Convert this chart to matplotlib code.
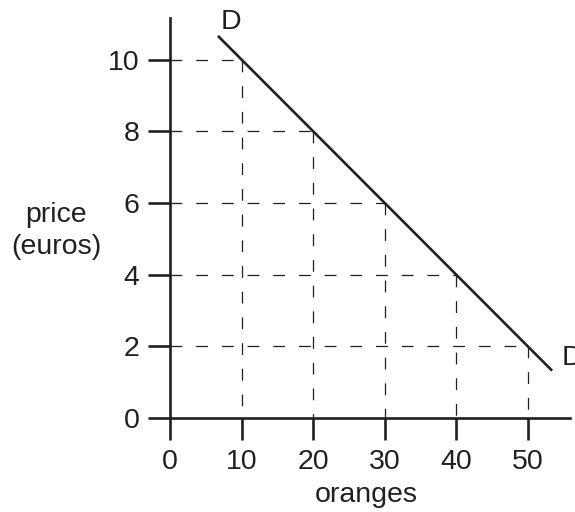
import matplotlib
matplotlib.use('Agg')
import matplotlib.pyplot as plt

plt.rcParams['font.family'] = ['Liberation Sans', 'DejaVu Sans']
plt.rcParams['lines.scale_dashes'] = False

# demand schedule
quantities = [10, 20, 30, 40, 50]
prices = [10, 8, 6, 4, 2]
# demand line ends
line_q = [6.7, 53.4]
line_p = [12 - 0.2 * q for q in line_q]

x_ticks = [0, 10, 20, 30, 40, 50]
y_ticks = [0, 2, 4, 6, 8, 10]

ink = '#231f20'
fs = 20.5

fig = plt.figure(figsize=(5.75, 5.12), dpi=100)
ax = fig.add_axes([170 / 575, 94 / 512, 400 / 575, 400 / 512])
ax.set_xlim(0, 55.9)
ax.set_ylim(0, 11.16)

# dashed guides
for q, p in zip(quantities, prices):
    ax.plot([0, q], [p, p], color=ink, lw=0.9, linestyle=(0, (8.5, 10)), clip_on=False)
    ax.plot([q, q], [p, 0], color=ink, lw=0.9, linestyle=(0, (8.5, 10)), clip_on=False)

ax.plot(line_q, line_p, color=ink, lw=1.9, solid_capstyle='butt', clip_on=False)

ax.text(8.5, 11.05, 'D', fontsize=fs, color=ink, ha='center', va='center')
ax.text(54.75, 1.67, 'D', fontsize=fs, color=ink, ha='left', va='center', clip_on=False)

for side in ['top', 'right']:
    ax.spines[side].set_visible(False)
for side in ['left', 'bottom']:
    ax.spines[side].set_linewidth(1.9)
    ax.spines[side].set_color(ink)

ax.set_xticks(x_ticks)
ax.set_yticks(y_ticks)
ax.tick_params(direction='out', length=16, width=1.9, color=ink,
               labelsize=fs, labelcolor=ink)
ax.tick_params(axis='y', pad=6)
ax.tick_params(axis='x', pad=6)

ax.text(27.4, -2.15, 'oranges', fontsize=fs, color=ink, ha='center', va='center')
ax.text(-15.9, 5.23, 'price\n(euros)', fontsize=fs, color=ink,
        ha='center', va='center', multialignment='center', linespacing=1.3)

fig.savefig('out.png', dpi=100)
